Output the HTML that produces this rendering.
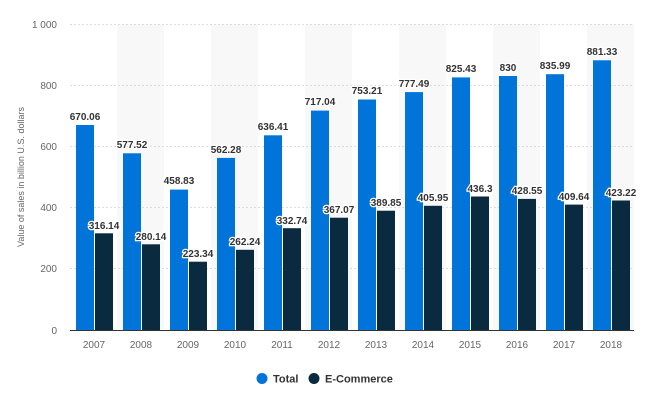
<!DOCTYPE html>
<html><head><meta charset="utf-8"><style>
html,body{margin:0;padding:0;background:#fff}
svg{display:block;font-family:"Liberation Sans",sans-serif}
.v{font-size:10px;font-weight:bold;fill:#333;text-anchor:middle;stroke:#fff;stroke-width:2.5px;paint-order:stroke}
.ax{font-size:10px;fill:#666}
</style></head><body>
<svg width="655" height="406" viewBox="0 0 655 406">
<g fill="#f8f8f8">
<rect x="117" y="24" width="47" height="306"/><rect x="211" y="24" width="47" height="306"/>
<rect x="305" y="24" width="47" height="306"/><rect x="399" y="24" width="47" height="306"/>
<rect x="493" y="24" width="47" height="306"/><rect x="587" y="24" width="47" height="306"/>
</g>
<g stroke="#ddd" stroke-dasharray="2,2" stroke-width="1">
<line x1="70" x2="634" y1="24.5" y2="24.5"/><line x1="70" x2="634" y1="85.5" y2="85.5"/>
<line x1="70" x2="634" y1="146.5" y2="146.5"/><line x1="70" x2="634" y1="207.5" y2="207.5"/>
<line x1="70" x2="634" y1="268.5" y2="268.5"/>
</g>
<g class="ax" text-anchor="end">
<text x="57" y="28">1 000</text><text x="57" y="89">800</text><text x="57" y="150">600</text>
<text x="57" y="211">400</text><text x="57" y="272">200</text><text x="57" y="334">0</text>
</g>
<text class="ax" transform="translate(24,177) rotate(-90)" text-anchor="middle" style="font-size:9px">Value of sales in billion U.S. dollars</text>
<g fill="#0074d9">
<rect x="76" y="125" width="18" height="205"/><rect x="123" y="153.3" width="18" height="176.7"/>
<rect x="170" y="189.6" width="18" height="140.4"/><rect x="217" y="157.9" width="18" height="172.1"/>
<rect x="264" y="135.3" width="18" height="194.7"/><rect x="311" y="110.6" width="18" height="219.4"/>
<rect x="358" y="99.5" width="18" height="230.5"/><rect x="405" y="92.1" width="18" height="237.9"/>
<rect x="452" y="77.4" width="18" height="252.6"/><rect x="499" y="76" width="18" height="254"/>
<rect x="546" y="74.2" width="18" height="255.8"/><rect x="593" y="60.3" width="18" height="269.7"/>
</g>
<g fill="#0a2a3f">
<rect x="95" y="233.3" width="18" height="96.7"/><rect x="142" y="244.3" width="18" height="85.7"/>
<rect x="189" y="261.7" width="18" height="68.3"/><rect x="236" y="249.8" width="18" height="80.2"/>
<rect x="283" y="228.2" width="18" height="101.8"/><rect x="330" y="217.7" width="18" height="112.3"/>
<rect x="377" y="210.7" width="18" height="119.3"/><rect x="424" y="205.8" width="18" height="124.2"/>
<rect x="471" y="196.5" width="18" height="133.5"/><rect x="518" y="198.9" width="18" height="131.1"/>
<rect x="565" y="204.6" width="18" height="125.4"/><rect x="612" y="200.5" width="18" height="129.5"/>
</g>
<line x1="70" x2="634" y1="330.5" y2="330.5" stroke="#333"/>
<g class="v">
<text x="85" y="120">670.06</text><text x="132" y="148">577.52</text><text x="179" y="184">458.83</text>
<text x="226" y="153">562.28</text><text x="273" y="130">636.41</text><text x="320" y="105">717.04</text>
<text x="367" y="94">753.21</text><text x="414" y="87">777.49</text><text x="461" y="72">825.43</text>
<text x="508" y="71">830</text><text x="555" y="69">835.99</text><text x="602" y="55">881.33</text>
<text x="104" y="229">316.14</text><text x="151" y="240">280.14</text><text x="198" y="257">223.34</text>
<text x="245" y="245">262.24</text><text x="292" y="224">332.74</text><text x="339" y="213">367.07</text>
<text x="386" y="206">389.85</text><text x="433" y="201">405.95</text><text x="480" y="192">436.3</text>
<text x="527" y="194">428.55</text><text x="574" y="200">409.64</text><text x="621" y="196">423.22</text>
</g>
<g class="ax" text-anchor="middle">
<text x="94" y="348">2007</text><text x="141" y="348">2008</text><text x="188" y="348">2009</text>
<text x="235" y="348">2010</text><text x="282" y="348">2011</text><text x="329" y="348">2012</text>
<text x="376" y="348">2013</text><text x="423" y="348">2014</text><text x="470" y="348">2015</text>
<text x="517" y="348">2016</text><text x="564" y="348">2017</text><text x="611" y="348">2018</text>
</g>
<circle cx="262" cy="378.5" r="5.5" fill="#0074d9"/>
<text x="273" y="382.5" style="font-size:11px;font-weight:bold;fill:#333">Total</text>
<circle cx="314" cy="378.5" r="5.5" fill="#0a2a3f"/>
<text x="325" y="382.5" style="font-size:11px;font-weight:bold;fill:#333">E-Commerce</text>
</svg>
</body></html>
